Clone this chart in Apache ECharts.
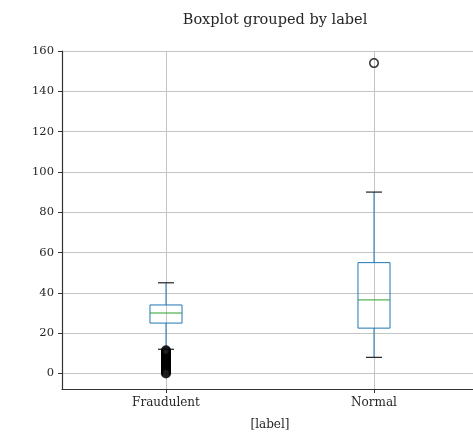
<!DOCTYPE html>
<html>
<head>
<meta charset="utf-8">
<script src="https://cdn.jsdelivr.net/npm/echarts@6/dist/echarts.min.js"></script>
<style>
  html, body { margin: 0; padding: 0; background: #fff; }
  #chart { width: 473px; height: 434px; }
</style>
</head>
<body>
<div id="chart"></div>
<script>
// categories on the x axis
const categories = ['Fraudulent', 'Normal']
// per category: lower whisker, Q1, median, Q3, upper whisker
const lowWhisker = [12, 8]
const q1 = [25, 22.5]
const median = [30, 36.5]
const q3 = [34, 55]
const highWhisker = [45, 90]
// outliers
const fraudOutliers = [0, 0.5, 1, 1.5, 2, 2.5, 3, 3.5, 4, 4.5, 5, 5.5, 6, 6.5, 7, 7.5, 8, 8.5, 9, 9.5, 10, 10.5, 11, 11.5]
const normalOutliers = [154]

const FONT = 'DejaVu Serif'
const TXT = '#262626'
const BLUE = '#1f77b4'
const GREEN = '#2ca02c'

const boxData = categories.map((c, i) => [i, lowWhisker[i], q1[i], median[i], q3[i], highWhisker[i]])
const outlierData = [
  ...fraudOutliers.map(v => [0, v]),
  ...normalOutliers.map(v => [1, v])
]

const chart = echarts.init(document.getElementById('chart'))

const renderBox = (params, api) => {
  const x = api.value(0)
  const lo = api.coord([x, api.value(1)])
  const b1 = api.coord([x, api.value(2)])
  const md = api.coord([x, api.value(3)])
  const b3 = api.coord([x, api.value(4)])
  const hi = api.coord([x, api.value(5)])
  const band = api.size([1, 0])[0]
  const half = band * 0.077
  const capHalf = half / 2
  const cx = lo[0]
  const blue = { stroke: BLUE, lineWidth: 1, fill: null }
  return {
    type: 'group',
    children: [
      { type: 'line', shape: { x1: cx, y1: lo[1], x2: cx, y2: b1[1] }, style: blue },
      { type: 'line', shape: { x1: cx, y1: b3[1], x2: cx, y2: hi[1] }, style: blue },
      { type: 'rect', shape: { x: cx - half, y: b3[1], width: half * 2, height: b1[1] - b3[1] }, style: blue },
      { type: 'line', shape: { x1: cx - half, y1: md[1], x2: cx + half, y2: md[1] }, style: { stroke: GREEN, lineWidth: 1 } },
      { type: 'line', shape: { x1: cx - capHalf, y1: lo[1], x2: cx + capHalf, y2: lo[1] }, style: { stroke: '#222', lineWidth: 1.2 } },
      { type: 'line', shape: { x1: cx - capHalf, y1: hi[1], x2: cx + capHalf, y2: hi[1] }, style: { stroke: '#222', lineWidth: 1.2 } }
    ]
  }
}

const option = {
  animation: false,
  backgroundColor: '#fff',
  title: {
    text: 'Boxplot grouped by label',
    left: 270,
    top: 8,
    textAlign: 'center',
    textStyle: { fontFamily: FONT, fontSize: 14.5, fontWeight: 'normal', color: TXT }
  },
  grid: {
    left: 62,
    top: 51,
    width: 416,
    height: 338,
    containLabel: false,
    outerBoundsMode: 'none'
  },
  xAxis: {
    type: 'category',
    data: categories,
    boundaryGap: true,
    name: '[label]',
    nameLocation: 'middle',
    nameGap: 30,
    nameTextStyle: { fontFamily: FONT, fontSize: 12, color: TXT },
    axisLine: { onZero: false, lineStyle: { color: '#333', width: 1.2 } },
    axisTick: { show: true, alignWithLabel: true, length: 4, lineStyle: { color: '#333' } },
    axisLabel: { fontFamily: FONT, fontSize: 12, color: TXT, margin: 8 },
    splitLine: { show: true, alignWithLabel: true, lineStyle: { color: '#c4c4c4', width: 1 } }
  },
  yAxis: {
    type: 'value',
    min: -7.7,
    max: 160,
    splitNumber: 8,
    axisLine: { show: true, lineStyle: { color: '#333', width: 1.2 } },
    axisTick: { show: true, length: 4, lineStyle: { color: '#333' } },
    axisLabel: { fontFamily: FONT, fontSize: 11.5, color: TXT, margin: 8, showMinLabel: false },
    splitLine: { show: true, lineStyle: { color: '#c4c4c4', width: 1 } }
  },
  series: [
    {
      type: 'custom',
      renderItem: renderBox,
      encode: { x: 0, y: [1, 2, 3, 4, 5] },
      data: boxData,
      z: 3
    },
    {
      type: 'scatter',
      data: outlierData,
      symbol: 'circle',
      symbolSize: 8.5,
      itemStyle: { color: 'rgba(0,0,0,0)', borderColor: '#000', borderWidth: 1.5 },
      z: 4
    }
  ]
}

chart.setOption(option)
</script>
</body>
</html>
